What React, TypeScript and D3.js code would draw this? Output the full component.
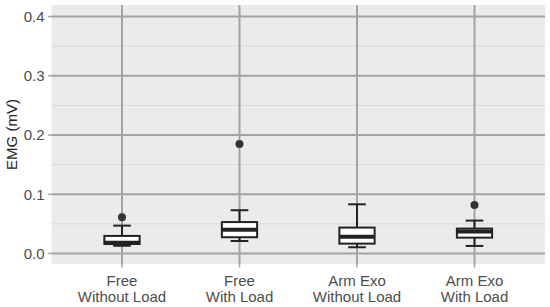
import React from "react";
import * as d3 from "d3";

const categories = ["Free\nWithout Load", "Free\nWith Load", "Arm Exo\nWithout Load", "Arm Exo\nWith Load"];
const whiskerLow = [0.013, 0.021, 0.0105, 0.0127];
const q1 = [0.016, 0.0274, 0.0166, 0.0267];
const median = [0.018, 0.040, 0.028, 0.037];
const q3 = [0.0296, 0.053, 0.0437, 0.042];
const whiskerHigh = [0.047, 0.073, 0.083, 0.0555];
const outliers: number[][] = [[0.061], [0.185], [], [0.082]];
const yTicks = [0.0, 0.1, 0.2, 0.3, 0.4];
const yMinor = [0.05, 0.15, 0.25, 0.35];

const W = 550, H = 307;
const left = 51.5, right = 545, top = 5, bottom = 264;

export default function App() {
  const y = d3.scaleLinear().domain([-0.0178, 0.4195]).range([bottom, top]);
  const x = d3.scalePoint().domain(categories).range([left, right]).padding(0.6);
  const step = x.step();
  const bw = step * 0.3;
  const cw = bw / 2;
  const font = "Arial, 'Liberation Sans', sans-serif";
  return (
    <svg width={W} height={H} style={{ position: "absolute", left: 0, top: 0 }}>
      <rect x={left} y={top} width={right - left} height={bottom - top} fill="#ebebeb" />
      {yMinor.map((t) => (
        <line key={"m" + t} x1={left} x2={right} y1={y(t)} y2={y(t)} stroke="#d9d9d9" strokeWidth={1} />
      ))}
      {yTicks.map((t) => (
        <line key={"g" + t} x1={left} x2={right} y1={y(t)} y2={y(t)} stroke="#a3a3a3" strokeWidth={2} />
      ))}
      {categories.map((c) => (
        <line key={"v" + c} x1={x(c)!} x2={x(c)!} y1={top} y2={bottom} stroke="#a3a3a3" strokeWidth={2} />
      ))}
      {yTicks.map((t) => (
        <g key={"t" + t}>
          <line x1={left - 3.5} x2={left} y1={y(t)} y2={y(t)} stroke="#a3a3a3" strokeWidth={1.5} />
          <text x={left - 7} y={y(t)} dy="0.36em" textAnchor="end" fontFamily={font} fontSize={15} fill="#4d4d4d">
            {t.toFixed(1)}
          </text>
        </g>
      ))}
      {categories.map((c) => (
        <line key={"xt" + c} x1={x(c)!} x2={x(c)!} y1={bottom} y2={bottom + 3.5} stroke="#a3a3a3" strokeWidth={1.5} />
      ))}
      {categories.map((c, i) => {
        const cx = x(c)!;
        return (
          <g key={"b" + i}>
            <line x1={cx} x2={cx} y1={y(whiskerLow[i])} y2={y(q1[i])} stroke="#222" strokeWidth={2} />
            <line x1={cx} x2={cx} y1={y(q3[i])} y2={y(whiskerHigh[i])} stroke="#222" strokeWidth={2} />
            <line x1={cx - cw / 2} x2={cx + cw / 2} y1={y(whiskerLow[i])} y2={y(whiskerLow[i])} stroke="#222" strokeWidth={2} />
            <line x1={cx - cw / 2} x2={cx + cw / 2} y1={y(whiskerHigh[i])} y2={y(whiskerHigh[i])} stroke="#222" strokeWidth={2} />
            <rect x={cx - bw / 2} y={y(q3[i])} width={bw} height={y(q1[i]) - y(q3[i])} fill="#fff" stroke="#222" strokeWidth={2} />
            <line x1={cx - bw / 2} x2={cx + bw / 2} y1={y(median[i])} y2={y(median[i])} stroke="#222" strokeWidth={4} />
            {outliers[i].map((o, j) => (
              <circle key={j} cx={cx} cy={y(o)} r={4} fill="#333" />
            ))}
            {c.split("\n").map((ln, k) => (
              <text key={k} x={cx} y={bottom + 22 + k * 15.5} textAnchor="middle" fontFamily={font} fontSize={15} fill="#4d4d4d">
                {ln}
              </text>
            ))}
          </g>
        );
      })}
      <text transform={`translate(17,${(top + bottom) / 2}) rotate(-90)`} textAnchor="middle" fontFamily={font} fontSize={15} fill="#222">
        EMG (mV)
      </text>
    </svg>
  );
}
